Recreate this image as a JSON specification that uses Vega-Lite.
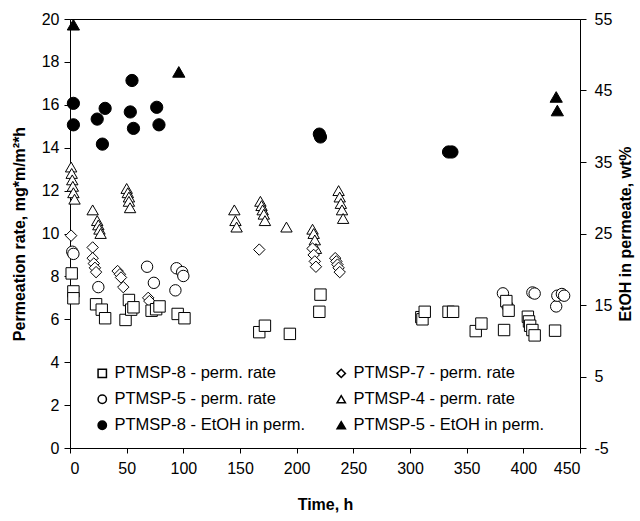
{
  "$schema": "https://vega.github.io/schema/vega-lite/v6.json",
  "width": 510,
  "height": 429,
  "autosize": {"type": "none"},
  "padding": {"left": 70, "top": 19, "right": 60, "bottom": 73},
  "background": "white",
  "config": {
    "font": "Liberation Sans",
    "view": {"stroke": "black", "strokeWidth": 1},
    "axis": {"grid": false, "domainColor": "black", "tickColor": "black", "labelColor": "black", "titleColor": "black", "labelFontSize": 16, "titleFontSize": 16, "titleFontWeight": "bold", "labelFont": "Liberation Sans", "titleFont": "Liberation Sans"},
    "legend": {"labelFont": "Liberation Sans", "labelFontSize": 16.5, "labelColor": "black", "labelLimit": 400}
  },
  "data": {"values": [
    {"s": "PTMSP-4 - perm. rate", "a": "L", "t": 1, "v": 13.1},
    {"s": "PTMSP-4 - perm. rate", "a": "L", "t": 1.5, "v": 12.8},
    {"s": "PTMSP-4 - perm. rate", "a": "L", "t": 2, "v": 12.5},
    {"s": "PTMSP-4 - perm. rate", "a": "L", "t": 2.5, "v": 12.2},
    {"s": "PTMSP-4 - perm. rate", "a": "L", "t": 3, "v": 11.9},
    {"s": "PTMSP-4 - perm. rate", "a": "L", "t": 4, "v": 11.6},
    {"s": "PTMSP-4 - perm. rate", "a": "L", "t": 20, "v": 11.1},
    {"s": "PTMSP-4 - perm. rate", "a": "L", "t": 24, "v": 10.6},
    {"s": "PTMSP-4 - perm. rate", "a": "L", "t": 25, "v": 10.4},
    {"s": "PTMSP-4 - perm. rate", "a": "L", "t": 26, "v": 10.2},
    {"s": "PTMSP-4 - perm. rate", "a": "L", "t": 27, "v": 10.0},
    {"s": "PTMSP-4 - perm. rate", "a": "L", "t": 50, "v": 12.1},
    {"s": "PTMSP-4 - perm. rate", "a": "L", "t": 51, "v": 11.9},
    {"s": "PTMSP-4 - perm. rate", "a": "L", "t": 52, "v": 11.7},
    {"s": "PTMSP-4 - perm. rate", "a": "L", "t": 52, "v": 11.5},
    {"s": "PTMSP-4 - perm. rate", "a": "L", "t": 53, "v": 11.2},
    {"s": "PTMSP-4 - perm. rate", "a": "L", "t": 145, "v": 11.1},
    {"s": "PTMSP-4 - perm. rate", "a": "L", "t": 146, "v": 10.6},
    {"s": "PTMSP-4 - perm. rate", "a": "L", "t": 147, "v": 10.3},
    {"s": "PTMSP-4 - perm. rate", "a": "L", "t": 168, "v": 11.5},
    {"s": "PTMSP-4 - perm. rate", "a": "L", "t": 169, "v": 11.3},
    {"s": "PTMSP-4 - perm. rate", "a": "L", "t": 170, "v": 11.1},
    {"s": "PTMSP-4 - perm. rate", "a": "L", "t": 171, "v": 10.9},
    {"s": "PTMSP-4 - perm. rate", "a": "L", "t": 172, "v": 10.6},
    {"s": "PTMSP-4 - perm. rate", "a": "L", "t": 191, "v": 10.3},
    {"s": "PTMSP-4 - perm. rate", "a": "L", "t": 214, "v": 10.2},
    {"s": "PTMSP-4 - perm. rate", "a": "L", "t": 215, "v": 10.0},
    {"s": "PTMSP-4 - perm. rate", "a": "L", "t": 216, "v": 9.7},
    {"s": "PTMSP-4 - perm. rate", "a": "L", "t": 217, "v": 9.3},
    {"s": "PTMSP-4 - perm. rate", "a": "L", "t": 237, "v": 12.0},
    {"s": "PTMSP-4 - perm. rate", "a": "L", "t": 238, "v": 11.7},
    {"s": "PTMSP-4 - perm. rate", "a": "L", "t": 239, "v": 11.4},
    {"s": "PTMSP-4 - perm. rate", "a": "L", "t": 240, "v": 11.1},
    {"s": "PTMSP-4 - perm. rate", "a": "L", "t": 241, "v": 10.7},

    {"s": "PTMSP-7 - perm. rate", "a": "L", "t": 1, "v": 9.9},
    {"s": "PTMSP-7 - perm. rate", "a": "L", "t": 20, "v": 9.35},
    {"s": "PTMSP-7 - perm. rate", "a": "L", "t": 20, "v": 8.85},
    {"s": "PTMSP-7 - perm. rate", "a": "L", "t": 21, "v": 8.6},
    {"s": "PTMSP-7 - perm. rate", "a": "L", "t": 22, "v": 8.4},
    {"s": "PTMSP-7 - perm. rate", "a": "L", "t": 23, "v": 8.2},
    {"s": "PTMSP-7 - perm. rate", "a": "L", "t": 42, "v": 8.25},
    {"s": "PTMSP-7 - perm. rate", "a": "L", "t": 44, "v": 8.1},
    {"s": "PTMSP-7 - perm. rate", "a": "L", "t": 45, "v": 7.95},
    {"s": "PTMSP-7 - perm. rate", "a": "L", "t": 47, "v": 7.5},
    {"s": "PTMSP-7 - perm. rate", "a": "L", "t": 69, "v": 7.0},
    {"s": "PTMSP-7 - perm. rate", "a": "L", "t": 70, "v": 6.85},
    {"s": "PTMSP-7 - perm. rate", "a": "L", "t": 167, "v": 9.25},
    {"s": "PTMSP-7 - perm. rate", "a": "L", "t": 214, "v": 9.3},
    {"s": "PTMSP-7 - perm. rate", "a": "L", "t": 215, "v": 9.0},
    {"s": "PTMSP-7 - perm. rate", "a": "L", "t": 216, "v": 8.7},
    {"s": "PTMSP-7 - perm. rate", "a": "L", "t": 217, "v": 8.45},
    {"s": "PTMSP-7 - perm. rate", "a": "L", "t": 234, "v": 8.85},
    {"s": "PTMSP-7 - perm. rate", "a": "L", "t": 235, "v": 8.7},
    {"s": "PTMSP-7 - perm. rate", "a": "L", "t": 236, "v": 8.55},
    {"s": "PTMSP-7 - perm. rate", "a": "L", "t": 237, "v": 8.4},
    {"s": "PTMSP-7 - perm. rate", "a": "L", "t": 238, "v": 8.2},

    {"s": "PTMSP-5 - perm. rate", "a": "L", "t": 2, "v": 9.15},
    {"s": "PTMSP-5 - perm. rate", "a": "L", "t": 3, "v": 9.05},
    {"s": "PTMSP-5 - perm. rate", "a": "L", "t": 25, "v": 7.5},
    {"s": "PTMSP-5 - perm. rate", "a": "L", "t": 68, "v": 8.45},
    {"s": "PTMSP-5 - perm. rate", "a": "L", "t": 74, "v": 7.7},
    {"s": "PTMSP-5 - perm. rate", "a": "L", "t": 93, "v": 7.35},
    {"s": "PTMSP-5 - perm. rate", "a": "L", "t": 94, "v": 8.38},
    {"s": "PTMSP-5 - perm. rate", "a": "L", "t": 99, "v": 8.2},
    {"s": "PTMSP-5 - perm. rate", "a": "L", "t": 100, "v": 8.02},
    {"s": "PTMSP-5 - perm. rate", "a": "L", "t": 382, "v": 7.21},
    {"s": "PTMSP-5 - perm. rate", "a": "L", "t": 386, "v": 6.62},
    {"s": "PTMSP-5 - perm. rate", "a": "L", "t": 408, "v": 7.25},
    {"s": "PTMSP-5 - perm. rate", "a": "L", "t": 410, "v": 7.2},
    {"s": "PTMSP-5 - perm. rate", "a": "L", "t": 429, "v": 6.6},
    {"s": "PTMSP-5 - perm. rate", "a": "L", "t": 430, "v": 7.1},
    {"s": "PTMSP-5 - perm. rate", "a": "L", "t": 434, "v": 7.18},
    {"s": "PTMSP-5 - perm. rate", "a": "L", "t": 436, "v": 7.1},

    {"s": "PTMSP-8 - perm. rate", "a": "L", "t": 1.5, "v": 8.14},
    {"s": "PTMSP-8 - perm. rate", "a": "L", "t": 3, "v": 7.3},
    {"s": "PTMSP-8 - perm. rate", "a": "L", "t": 3, "v": 6.98},
    {"s": "PTMSP-8 - perm. rate", "a": "L", "t": 23, "v": 6.7},
    {"s": "PTMSP-8 - perm. rate", "a": "L", "t": 28, "v": 6.45},
    {"s": "PTMSP-8 - perm. rate", "a": "L", "t": 31, "v": 6.05},
    {"s": "PTMSP-8 - perm. rate", "a": "L", "t": 49, "v": 5.97},
    {"s": "PTMSP-8 - perm. rate", "a": "L", "t": 52, "v": 6.9},
    {"s": "PTMSP-8 - perm. rate", "a": "L", "t": 54, "v": 6.45},
    {"s": "PTMSP-8 - perm. rate", "a": "L", "t": 56, "v": 6.56},
    {"s": "PTMSP-8 - perm. rate", "a": "L", "t": 72, "v": 6.4},
    {"s": "PTMSP-8 - perm. rate", "a": "L", "t": 76, "v": 6.47},
    {"s": "PTMSP-8 - perm. rate", "a": "L", "t": 79, "v": 6.6},
    {"s": "PTMSP-8 - perm. rate", "a": "L", "t": 95, "v": 6.25},
    {"s": "PTMSP-8 - perm. rate", "a": "L", "t": 101, "v": 6.05},
    {"s": "PTMSP-8 - perm. rate", "a": "L", "t": 167, "v": 5.4},
    {"s": "PTMSP-8 - perm. rate", "a": "L", "t": 172, "v": 5.7},
    {"s": "PTMSP-8 - perm. rate", "a": "L", "t": 194, "v": 5.32},
    {"s": "PTMSP-8 - perm. rate", "a": "L", "t": 220, "v": 6.35},
    {"s": "PTMSP-8 - perm. rate", "a": "L", "t": 221, "v": 7.15},
    {"s": "PTMSP-8 - perm. rate", "a": "L", "t": 310, "v": 6.1},
    {"s": "PTMSP-8 - perm. rate", "a": "L", "t": 311, "v": 6.0},
    {"s": "PTMSP-8 - perm. rate", "a": "L", "t": 313, "v": 6.35},
    {"s": "PTMSP-8 - perm. rate", "a": "L", "t": 334, "v": 6.35},
    {"s": "PTMSP-8 - perm. rate", "a": "L", "t": 338, "v": 6.35},
    {"s": "PTMSP-8 - perm. rate", "a": "L", "t": 358, "v": 5.45},
    {"s": "PTMSP-8 - perm. rate", "a": "L", "t": 363, "v": 5.8},
    {"s": "PTMSP-8 - perm. rate", "a": "L", "t": 383, "v": 5.5},
    {"s": "PTMSP-8 - perm. rate", "a": "L", "t": 385, "v": 6.85},
    {"s": "PTMSP-8 - perm. rate", "a": "L", "t": 387, "v": 6.4},
    {"s": "PTMSP-8 - perm. rate", "a": "L", "t": 404, "v": 6.12},
    {"s": "PTMSP-8 - perm. rate", "a": "L", "t": 405, "v": 5.9},
    {"s": "PTMSP-8 - perm. rate", "a": "L", "t": 406, "v": 5.7},
    {"s": "PTMSP-8 - perm. rate", "a": "L", "t": 408, "v": 5.5},
    {"s": "PTMSP-8 - perm. rate", "a": "L", "t": 410, "v": 5.25},
    {"s": "PTMSP-8 - perm. rate", "a": "L", "t": 428, "v": 5.47},

    {"s": "PTMSP-8 - EtOH in perm.", "a": "R", "t": 3, "v": 43.2},
    {"s": "PTMSP-8 - EtOH in perm.", "a": "R", "t": 3, "v": 40.2},
    {"s": "PTMSP-8 - EtOH in perm.", "a": "R", "t": 24, "v": 41.0},
    {"s": "PTMSP-8 - EtOH in perm.", "a": "R", "t": 28.6, "v": 37.5},
    {"s": "PTMSP-8 - EtOH in perm.", "a": "R", "t": 31, "v": 42.5},
    {"s": "PTMSP-8 - EtOH in perm.", "a": "R", "t": 54.7, "v": 46.4},
    {"s": "PTMSP-8 - EtOH in perm.", "a": "R", "t": 53.2, "v": 42.0},
    {"s": "PTMSP-8 - EtOH in perm.", "a": "R", "t": 56, "v": 39.7},
    {"s": "PTMSP-8 - EtOH in perm.", "a": "R", "t": 76.5, "v": 42.65},
    {"s": "PTMSP-8 - EtOH in perm.", "a": "R", "t": 78.5, "v": 40.2},
    {"s": "PTMSP-8 - EtOH in perm.", "a": "R", "t": 220, "v": 38.9},
    {"s": "PTMSP-8 - EtOH in perm.", "a": "R", "t": 221, "v": 38.5},
    {"s": "PTMSP-8 - EtOH in perm.", "a": "R", "t": 334, "v": 36.4},
    {"s": "PTMSP-8 - EtOH in perm.", "a": "R", "t": 337, "v": 36.4},

    {"s": "PTMSP-5 - EtOH in perm.", "a": "R", "t": 3, "v": 54.2},
    {"s": "PTMSP-5 - EtOH in perm.", "a": "R", "t": 96, "v": 47.6},
    {"s": "PTMSP-5 - EtOH in perm.", "a": "R", "t": 429, "v": 44.1},
    {"s": "PTMSP-5 - EtOH in perm.", "a": "R", "t": 430, "v": 42.2}
  ]},
  "encoding": {
    "x": {"field": "t", "type": "quantitative", "scale": {"domain": [0, 450], "nice": false},
      "axis": {"values": [0, 50, 100, 150, 200, 250, 300, 350, 400, 450], "title": "Time, h", "tickSize": 5, "labelPadding": 7, "titlePadding": 20}},
    "shape": {"field": "s", "type": "nominal",
      "scale": {"domain": ["PTMSP-8 - perm. rate", "PTMSP-5 - perm. rate", "PTMSP-8 - EtOH in perm.", "PTMSP-7 - perm. rate", "PTMSP-4 - perm. rate", "PTMSP-5 - EtOH in perm."],
        "range": ["square", "circle", "circle", "diamond", "triangle-up", "triangle-up"]},
      "legend": {"title": null, "orient": "none", "legendX": 24, "legendY": 346, "columns": 2, "columnPadding": 27, "rowPadding": 9, "symbolSize": 70, "labelOffset": 4,
        "encode": {"symbols": {"update": {"stroke": {"value": "black"}, "strokeWidth": {"value": 1}}}}}},
    "fill": {"field": "s", "type": "nominal",
      "scale": {"domain": ["PTMSP-8 - perm. rate", "PTMSP-5 - perm. rate", "PTMSP-8 - EtOH in perm.", "PTMSP-7 - perm. rate", "PTMSP-4 - perm. rate", "PTMSP-5 - EtOH in perm."],
        "range": ["white", "white", "black", "white", "white", "black"]},
      "legend": {"title": null, "orient": "none", "legendX": 24, "legendY": 346, "columns": 2, "columnPadding": 27, "rowPadding": 9, "symbolSize": 70, "labelOffset": 4,
        "encode": {"symbols": {"update": {"stroke": {"value": "black"}, "strokeWidth": {"value": 1}}}}}}
  },
  "layer": [
    {
      "transform": [{"filter": "datum.a === 'L'"}],
      "mark": {"type": "point", "filled": true, "stroke": "black", "strokeWidth": 1, "size": 130, "opacity": 1},
      "encoding": {
        "y": {"field": "v", "type": "quantitative", "scale": {"domain": [0, 20], "nice": false},
          "axis": {"orient": "left", "values": [0, 2, 4, 6, 8, 10, 12, 14, 16, 18, 20], "title": "Permeation rate, mg*m/m²*h", "tickSize": 6, "labelPadding": 5, "titlePadding": 14}}
      }
    },
    {
      "transform": [{"filter": "datum.a === 'R'"}],
      "mark": {"type": "point", "filled": true, "stroke": "black", "strokeWidth": 1, "size": 150, "opacity": 1},
      "encoding": {
        "y": {"field": "v", "type": "quantitative", "scale": {"domain": [-5, 55], "nice": false},
          "axis": {"orient": "right", "values": [-5, 5, 15, 25, 35, 45, 55], "labelExpr": "replace(datum.label, '−', '-')", "title": "EtOH in permeate, wt%", "titleAngle": 270, "tickSize": 6, "labelPadding": 8, "titlePadding": 22}}
      }
    }
  ],
  "resolve": {"scale": {"y": "independent"}}
}
